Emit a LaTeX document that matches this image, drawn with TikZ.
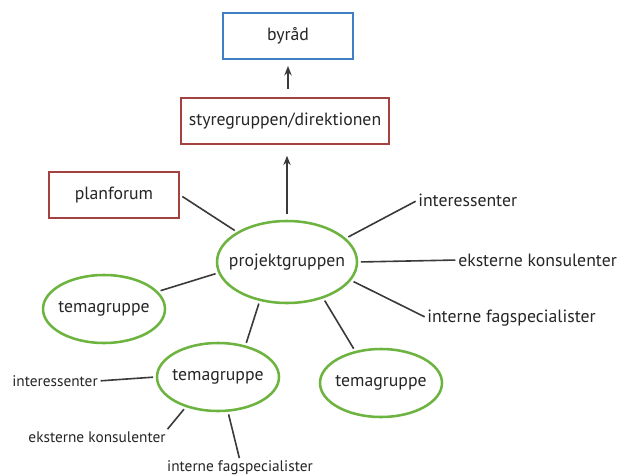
\documentclass[tikz,border=0pt]{standalone}
\usepackage{fontspec}
\setmainfont{PT Sans}
\usetikzlibrary{shapes.geometric,arrows.meta}
\definecolor{raadblue}{HTML}{3F7FC4}
\definecolor{styrered}{HTML}{A3423F}
\definecolor{temagreen}{HTML}{6DB33F}
\definecolor{linegray}{HTML}{3A3A3A}

\begin{document}
\begin{tikzpicture}[x=0.75pt,y=-0.75pt,
    every node/.style={font=\fontsize{13.3}{15}\selectfont, text=black!85},
    raadbox/.style={draw=raadblue, line width=1.6pt, minimum width=97.5pt, minimum height=34.5pt},
    styrebox/.style={draw=styrered, line width=1.6pt, minimum width=97.5pt, minimum height=34.5pt},
    gruppe/.style={ellipse, draw=temagreen, line width=1.9pt, inner sep=0pt, minimum width=91.5pt, minimum height=51pt},
    lbl/.style={inner sep=0pt},
    smalllbl/.style={inner sep=0pt, font=\fontsize{11.5}{13}\selectfont},
    link/.style={draw=linegray, line width=1.2pt, shorten <=2pt, shorten >=2pt},
    uparrow/.style={link, -{Stealth[length=7pt,width=5.5pt]}}
]
    \useasboundingbox[fill=white] (0,0) rectangle (618,475);

    \node[raadbox] (byraad) at (288,36) {byråd};
    \node[styrebox, minimum width=156pt] (styre) at (285,121) {styregruppen/direktionen};
    \node[styrebox] (planforum) at (114,195) {planforum};

    \node[gruppe, minimum width=105pt, minimum height=61.5pt] (projekt) at (287,262) {\makebox[0pt]{projektgruppen}};
    \node[gruppe] (temaA) at (104,309) {\makebox[0pt]{temagruppe}};
    \node[gruppe] (temaB) at (218,377) {\makebox[0pt]{temagruppe}};
    \node[gruppe] (temaC) at (381,383) {\makebox[0pt]{temagruppe}};

    \node[lbl, anchor=west] (intA) at (418,200) {interessenter};
    \node[lbl, anchor=west] (eksA) at (458,260) {eksterne konsulenter};
    \node[lbl, anchor=west] (ifA) at (427,318) {interne fagspecialister};
    \node[smalllbl] (intB) at (55,381) {interessenter};
    \node[smalllbl] (eksB) at (97,437) {eksterne konsulenter};
    \node[smalllbl] (ifB) at (240,468) {interne fagspecialister};

    \draw[uparrow, shorten <=4.5pt, shorten >=8pt] (projekt.north) -- (projekt.north |- styre.south);
    \draw[uparrow, shorten <=6pt, shorten >=4.5pt] (byraad.south |- styre.north) -- (byraad.south);

    \draw[link] (planforum.east) -- (projekt.149);
    \draw[link] (projekt.22) -- (intA.west);
    \draw[link] (projekt.east) -- (eksA.west);
    \draw[link] (projekt.-16) -- (ifA.west);
    \draw[link] (projekt.189) -- (temaA.18);
    \draw[link] (projekt.235) -- (temaB.49);
    \draw[link] (projekt.-45) -- (temaC.129);
    \draw[link] (temaB.west) -- (intB.east);
    \draw[link] (temaB.223) -- (eksB.north east);
    \draw[link] (temaB.-74) -- (ifB.north);
\end{tikzpicture}
\end{document}
